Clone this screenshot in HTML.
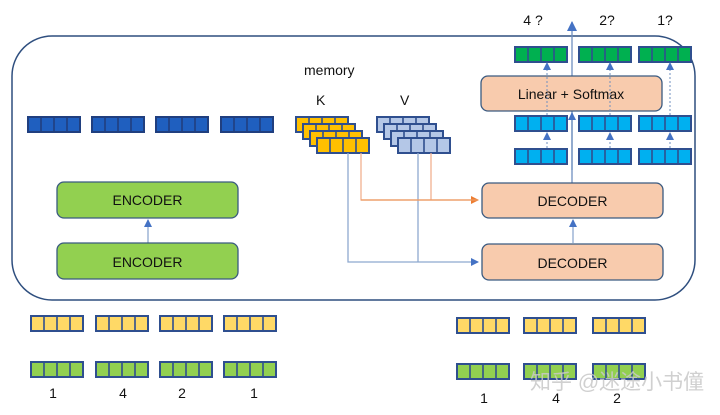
<!DOCTYPE html>
<html><head><meta charset="utf-8"><style>
html,body{margin:0;padding:0;background:#fff;}
svg{display:block;font-family:"Liberation Sans","Noto Sans CJK SC",sans-serif;}
</style></head><body>
<svg id="s" width="720" height="415" viewBox="0 0 720 415" xmlns="http://www.w3.org/2000/svg">
<defs>
<marker id="ab" markerWidth="8" markerHeight="8" refX="7" refY="4" orient="auto" markerUnits="userSpaceOnUse"><path d="M0,0 L8,4 L0,8z" fill="#4472c4"/></marker>
<marker id="ao" markerWidth="8" markerHeight="8" refX="7" refY="4" orient="auto" markerUnits="userSpaceOnUse"><path d="M0,0 L8,4 L0,8z" fill="#ed7d31"/></marker>
<marker id="ab2" markerWidth="10" markerHeight="10" refX="9" refY="5" orient="auto" markerUnits="userSpaceOnUse"><path d="M0,0 L10,5 L0,10z" fill="#4472c4"/></marker>
</defs>
<rect x="12" y="36" width="683" height="264" rx="40" fill="none" stroke="#2f4f7f" stroke-width="1.5"/>
<text x="304" y="75" font-size="14" fill="#111">memory</text>
<text x="316" y="105" font-size="14" fill="#111">K</text>
<text x="400" y="105" font-size="14" fill="#111">V</text>
<g id="bars"></g>
<!-- connectors -->
<g fill="none" stroke-width="1.3">
<path d="M348,153 V262 H478" stroke="#8ea9cf" marker-end="url(#ab)"/>
<path d="M418,153 V262" stroke="#8ea9cf"/>
<path d="M361,153 V200 H478" stroke="#f0b090" marker-end="url(#ao)"/>
<path d="M431,153 V200" stroke="#f0b090"/>
<path d="M361,200 H478" stroke="#ed9a60"/>
<path d="M148,243 V220" stroke="#8ea9cf" marker-end="url(#ab)"/>
<path d="M573,243 V220" stroke="#8ea9cf" marker-end="url(#ab)"/>
<path d="M572,183 V22" stroke="#6f8fbf" marker-end="url(#ab2)"/>
<path d="M572,170 V113" stroke="#6f8fbf" marker-end="url(#ab)"/>
</g>
<!-- boxes -->
<rect x="57" y="182" width="181" height="36" rx="7" fill="#92d050" stroke="#3a5a80" stroke-width="1.3"/>
<text x="147.5" y="205" font-size="14" text-anchor="middle" fill="#111">ENCODER</text>
<rect x="57" y="243" width="181" height="36" rx="7" fill="#92d050" stroke="#3a5a80" stroke-width="1.3"/>
<text x="147.5" y="267" font-size="14" text-anchor="middle" fill="#111">ENCODER</text>
<rect x="482" y="183" width="181" height="35" rx="7" fill="#f8cbad" stroke="#3a5a80" stroke-width="1.3"/>
<text x="572.5" y="206" font-size="14" text-anchor="middle" fill="#111">DECODER</text>
<rect x="482" y="244" width="181" height="36" rx="7" fill="#f8cbad" stroke="#3a5a80" stroke-width="1.3"/>
<text x="572.5" y="268" font-size="14" text-anchor="middle" fill="#111">DECODER</text>
<rect x="481" y="76" width="181" height="35" rx="7" fill="#f8cbad" stroke="#3a5a80" stroke-width="1.3"/>
<text x="571" y="99" font-size="14" text-anchor="middle" fill="#111">Linear + Softmax</text>
<g id="arr"></g>
<text x="533" y="25" font-size="14" text-anchor="middle" fill="#111">4 ?</text>
<text x="607" y="25" font-size="14" text-anchor="middle" fill="#111">2?</text>
<text x="665" y="25" font-size="14" text-anchor="middle" fill="#111">1?</text>
<g font-size="14" fill="#111" text-anchor="middle">
<text x="53" y="398">1</text><text x="123" y="398">4</text><text x="182" y="398">2</text><text x="254" y="398">1</text>
<text x="484" y="403">1</text><text x="556" y="403">4</text><text x="617" y="403">2</text>
</g>
<text x="530" y="389" font-size="21" fill="#c8c8c8" fill-opacity="0.85">知乎 @迷途小书僮</text>
</svg>
<script>
var ns="http://www.w3.org/2000/svg",g=document.getElementById("bars");
function bar(x,y,fill,st,w,h){w=w||52;h=h||15;
 var r=document.createElementNS(ns,"rect");r.setAttribute("x",x);r.setAttribute("y",y);r.setAttribute("width",w);r.setAttribute("height",h);r.setAttribute("fill",fill);r.setAttribute("stroke",st);r.setAttribute("stroke-width","2");g.appendChild(r);
 for(var i=1;i<4;i++){var l=document.createElementNS(ns,"line");l.setAttribute("x1",x+w*i/4);l.setAttribute("x2",x+w*i/4);l.setAttribute("y1",y);l.setAttribute("y2",y+h);l.setAttribute("stroke",st);l.setAttribute("stroke-width","1.6");g.appendChild(l);}}
var db="#2f4f8f";
[28,92,156,221].forEach(function(x){bar(x,117,"#1f5fbf","#203f7f");});
for(var k=0;k<4;k++){bar(296+k*7,117+k*7,"#ffc000",db);}
for(var k=0;k<4;k++){bar(377+k*7,117+k*7,"#b4c7e7",db);}
[515,579,639].forEach(function(x){bar(x,47,"#00b050",db);bar(x,116,"#00b0f0",db);bar(x,149,"#00b0f0",db);});
[31,96,160,224].forEach(function(x){bar(x,316,"#ffd966",db);bar(x,362,"#92d050",db);});
[457,524,593].forEach(function(x){bar(x,318,"#ffd966",db);bar(x,364,"#92d050",db);});
var a=document.getElementById("arr");
function ar(x,y1,y2){var p=document.createElementNS(ns,"path");p.setAttribute("d","M"+x+","+y1+" V"+y2);p.setAttribute("stroke","#6f8fbf");p.setAttribute("stroke-dasharray","2,2");p.setAttribute("fill","none");p.setAttribute("marker-end","url(#ab)");a.appendChild(p);}
[547,610,670].forEach(function(x){ar(x,148,133);ar(x,115,63);});
</script>
</body></html>
